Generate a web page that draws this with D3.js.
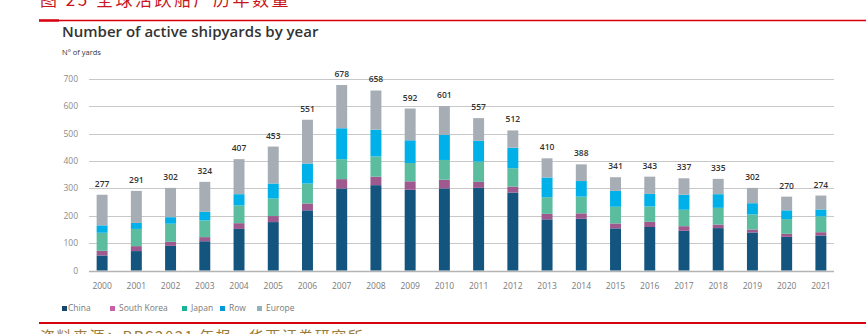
<!DOCTYPE html>
<html><head><meta charset="utf-8">
<script src="https://cdn.jsdelivr.net/npm/d3@7/dist/d3.min.js"></script>
<style>body{margin:0;background:#fff;}svg{display:block;}</style>
</head><body>
<svg id="c" width="866" height="334"></svg>
<script>
const years = ["2000","2001","2002","2003","2004","2005","2006","2007","2008","2009","2010","2011","2012","2013","2014","2015","2016","2017","2018","2019","2020","2021"];
const china      = [55,71,90,107,152,177,220,300,312,295,300,302,285,187,189,154,159,145,155,139,123,128];
const southKorea = [17,18,15,15,21,22,25,34,31,31,32,22,22,20,20,18,19,17,13,11,11,12];
const japan      = [66,63,66,61,65,64,73,73,74,67,72,74,67,61,61,61,56,60,61,55,54,58];
const row        = [27,22,24,32,41,55,73,113,98,83,92,76,75,72,57,58,46,55,50,41,32,25];
const europe     = [112,117,107,109,128,135,160,158,143,116,105,83,63,70,61,50,63,60,56,56,50,51];
const totals     = [277,291,302,324,407,453,551,678,658,592,601,557,512,410,388,341,343,337,335,302,270,274];
const yTicks     = [0,100,200,300,400,500,600,700];
const seriesNames = ["China","South Korea","Japan","Row","Europe"];
const seriesColors = ["#14557f","#9e5a8e","#5bbd9d","#00b1e9","#a7adb5"];
const legendColors = ["#14466e","#c561a6","#17b395","#0098d8","#8fb3bd"];

const svg = d3.select("#c");
const data = years.map((y,i)=>({year:y, China:china[i], "South Korea":southKorea[i], Japan:japan[i], Row:row[i], Europe:europe[i], total:totals[i]}));
const stack = d3.stack().keys(seriesNames)(data);

const x = d3.scaleBand().domain(years).range([85,838]).paddingInner(0.68).paddingOuter(0.34);
const y = d3.scaleLinear().domain([0,700]).range([270.5,79]);

// header
svg.append("text").attr("x",40).attr("y",6).attr("fill","#c8161d")
  .attr("font-family","'Noto Sans CJK SC'").attr("font-size",17).attr("letter-spacing",2.5)
  .text("图 25 全球活跃船厂历年数量");
svg.append("line").attr("x1",39).attr("x2",866).attr("y1",20.5).attr("y2",20.5).attr("stroke","#d7000f").attr("stroke-width",1.6);
svg.append("line").attr("x1",39).attr("x2",59).attr("y1",20.5).attr("y2",20.5).attr("stroke","#d7000f").attr("stroke-width",2.4);

svg.append("text").attr("x",62).attr("y",37).attr("fill","#333")
  .attr("font-family","'Open Sans'").attr("font-weight",600).attr("font-size",15).text("Number of active shipyards by year");
svg.append("text").attr("x",62).attr("y",54.5).attr("fill","#333")
  .attr("font-family","'Open Sans'").attr("font-size",7.5).text("N° of yards");

// grid
const g = svg.append("g");
g.selectAll("line.grid").data(yTicks).join("line")
  .attr("x1",89).attr("x2",834).attr("y1",d=>Math.round(y(d))+0.5).attr("y2",d=>Math.round(y(d))+0.5)
  .attr("stroke",d=>d===0?"#b4b4b4":"#c8c8c8").attr("stroke-width",d=>d===0?1.4:1);
g.selectAll("text.yl").data(yTicks).join("text")
  .attr("x",78).attr("y",d=>y(d)+3).attr("text-anchor","end").attr("fill","#8a8a8a")
  .attr("font-family","'Open Sans'").attr("font-size",8.5).text(d=>d);

// bars
svg.append("g").selectAll("g").data(stack).join("g")
  .attr("fill",(d,i)=>seriesColors[i])
  .selectAll("rect").data(d=>d).join("rect")
  .attr("x",d=>x(d.data.year)).attr("width",x.bandwidth())
  .attr("y",d=>y(d[1])).attr("height",d=>y(d[0])-y(d[1]));

// totals
svg.append("g").selectAll("text").data(data).join("text")
  .attr("x",d=>x(d.year)+x.bandwidth()/2).attr("y",d=>y(d.total)-8)
  .attr("text-anchor","middle").attr("fill","#333").attr("font-family","'Open Sans'")
  .attr("font-weight",600).attr("font-size",8.5).text(d=>d.total);

// x labels
svg.append("g").selectAll("text").data(years).join("text")
  .attr("x",d=>x(d)+x.bandwidth()/2).attr("y",289).attr("text-anchor","middle")
  .attr("fill","#7a7a7a").attr("font-family","'Open Sans'").attr("font-size",8.5).text(d=>d);

// legend
const legX = [62,110,182,220,257];
const lg = svg.append("g").selectAll("g").data(seriesNames).join("g")
  .attr("transform",(d,i)=>`translate(${legX[i]},311)`);
lg.append("rect").attr("x",0).attr("y",-5).attr("width",5).attr("height",5).attr("fill",(d,i)=>legendColors[i]);
lg.append("text").attr("x",(d,i)=>i===0?6:9).attr("y",0).attr("fill","#7a7a7a")
  .attr("font-family","'Open Sans'").attr("font-size",8.5).text(d=>d);

// footer
svg.append("line").attr("x1",39).attr("x2",866).attr("y1",323).attr("y2",323).attr("stroke","#d7000f").attr("stroke-width",1.8);
svg.append("text").attr("x",40).attr("y",342).attr("fill","#9b7b3a")
  .attr("font-family","'Noto Sans CJK SC'").attr("font-size",15).attr("letter-spacing",1.5)
  .text("资料来源：BRS2021 年报，华西证券研究所");
</script>
</body></html>
